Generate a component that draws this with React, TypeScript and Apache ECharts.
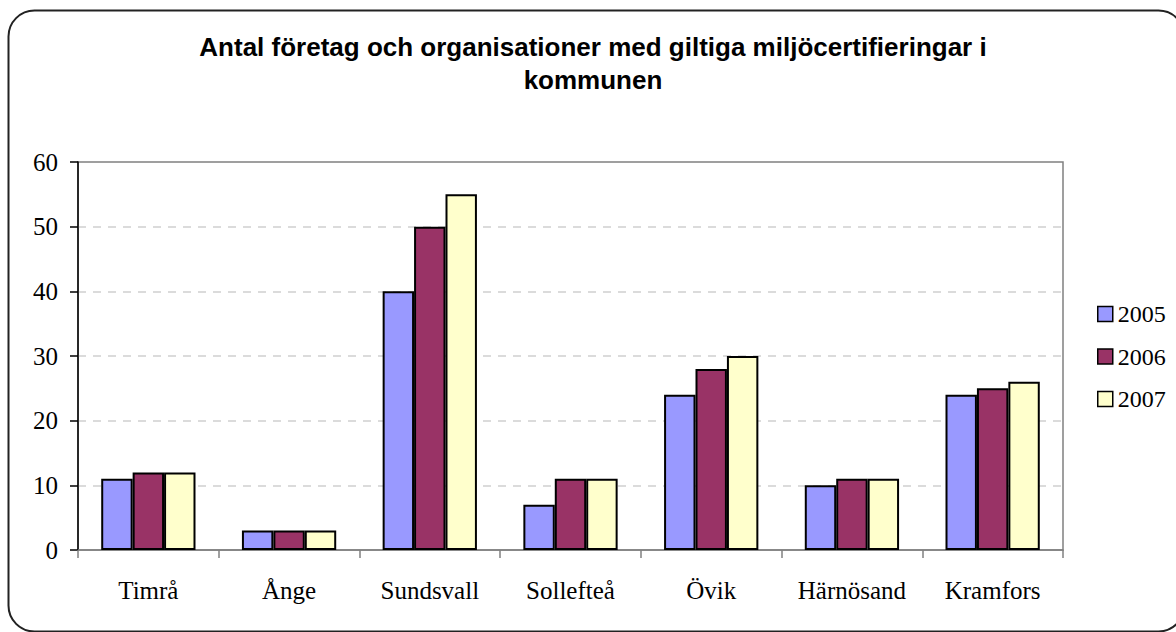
import React, { useEffect, useRef } from "react";
import * as echarts from "echarts";

const categories = ["Timrå", "Ånge", "Sundsvall", "Sollefteå", "Övik", "Härnösand", "Kramfors"];
const seriesNames = ["2005", "2006", "2007"];
const values2005 = [11, 3, 40, 7, 24, 10, 24];
const values2006 = [12, 3, 50, 11, 28, 11, 25];
const values2007 = [12, 3, 55, 11, 30, 11, 26];
const seriesColors = ["#9999FF", "#993366", "#FFFFCC"];
const titleText = "Antal företag och organisationer med giltiga miljöcertifieringar i\nkommunen";

export default function App() {
  const ref = useRef<HTMLDivElement>(null);
  useEffect(() => {
    if (!ref.current) return;
    const chart = echarts.init(ref.current, null, { renderer: "svg" });
    const data = [values2005, values2006, values2007];
    chart.setOption({
      animation: false,
      backgroundColor: "#ffffff",
      title: {
        text: titleText,
        left: 588,
        top: 25,
        textAlign: "center",
        textStyle: {
          fontFamily: "Liberation Sans",
          fontWeight: "bold",
          fontSize: 26,
          lineHeight: 33,
          color: "#000",
          align: "center",
        },
      },
      graphic: [
        {
          type: "rect",
          shape: { x: 8.5, y: 10.5, width: 1176, height: 621, r: 26 },
          style: { fill: "none", stroke: "#222", lineWidth: 2 },
          silent: true,
          z: 100,
        },
      ],
      legend: {
        orient: "vertical",
        left: 1097,
        top: 302,
        padding: 0,
        itemWidth: 15,
        itemHeight: 15,
        itemGap: 18.5,
        icon: "rect",
        data: seriesNames,
        textStyle: {
          fontFamily: "Liberation Serif, serif",
          fontSize: 24,
          lineHeight: 24,
          color: "#000",
        },
        itemStyle: { borderColor: "#000", borderWidth: 1.5 },
      },
      grid: {
        left: 78,
        right: 113,
        top: 162,
        bottom: 82,
        show: true,
        borderColor: "#808080",
        borderWidth: 1.5,
        backgroundColor: "transparent",
      },
      xAxis: {
        type: "category",
        data: categories,
        axisLine: { lineStyle: { color: "#808080", width: 1.5 } },
        axisTick: { show: true, length: 8, alignWithLabel: false, lineStyle: { color: "#808080", width: 1.5 } },
        axisLabel: {
          margin: 28,
          fontFamily: "Liberation Serif, serif",
          fontSize: 25,
          color: "#000",
          interval: 0,
        },
        splitLine: { show: false },
      },
      yAxis: {
        type: "value",
        min: 0,
        max: 60,
        interval: 10,
        axisLine: { show: true, lineStyle: { color: "#000", width: 1.5 } },
        axisTick: { show: true, length: 8, lineStyle: { color: "#000", width: 1.5 } },
        axisLabel: {
          margin: 20,
          fontFamily: "Liberation Serif, serif",
          fontSize: 25,
          color: "#000",
        },
        splitLine: {
          show: true,
          showMinLine: false,
          showMaxLine: false,
          lineStyle: { color: "#d0d0d0", type: [8, 7], width: 1.5 },
        },
      },
      series: seriesNames.map((name, i) => ({
        name,
        type: "bar",
        data: data[i],
        barGap: "0%",
        barCategoryGap: "33%",
        itemStyle: { color: seriesColors[i], borderColor: "#000", borderWidth: 2 },
      })),
    });
    return () => chart.dispose();
  }, []);
  return (
    <div
      ref={ref}
      style={{ position: "fixed", left: 0, top: 0, width: 1176, height: 632, background: "#fff" }}
    />
  );
}
